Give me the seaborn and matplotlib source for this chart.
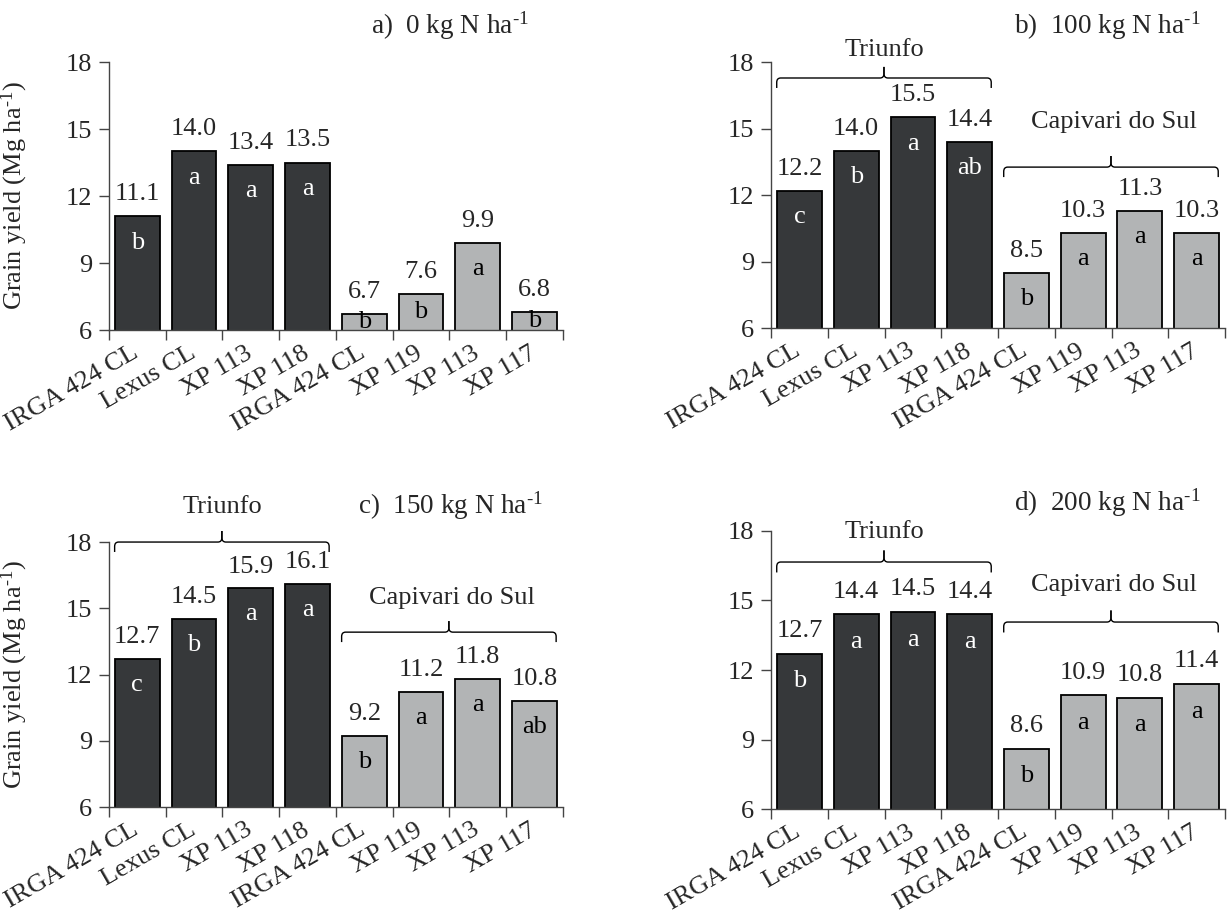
import numpy as np
import pandas as pd
import matplotlib
matplotlib.use('Agg')
import matplotlib.pyplot as plt
import seaborn as sns
from matplotlib.path import Path
from matplotlib.patches import PathPatch
from matplotlib.transforms import ScaledTranslation

# ─── Data ──────────────────────────────────────────────────────────────────
CULTIVARS = ['IRGA 424 CL', 'Lexus CL', 'XP 113', 'XP 118',
             'IRGA 424 CL', 'XP 119', 'XP 113', 'XP 117']
SITES = ['Triunfo'] * 4 + ['Capivari do Sul'] * 4

YIELD_0 = [11.1, 14.0, 13.4, 13.5, 6.7, 7.6, 9.9, 6.8]
YIELD_100 = [12.2, 14.0, 15.5, 14.4, 8.5, 10.3, 11.3, 10.3]
YIELD_150 = [12.7, 14.5, 15.9, 16.1, 9.2, 11.2, 11.8, 10.8]
YIELD_200 = [12.7, 14.4, 14.5, 14.4, 8.6, 10.9, 10.8, 11.4]

LETTERS_0 = ['b', 'a', 'a', 'a', 'b', 'b', 'a', 'b']
LETTERS_100 = ['c', 'b', 'a', 'ab', 'b', 'a', 'a', 'a']
LETTERS_150 = ['c', 'b', 'a', 'a', 'b', 'a', 'a', 'ab']
LETTERS_200 = ['b', 'a', 'a', 'a', 'b', 'a', 'a', 'a']

TITLES = [r'a)  0 kg N ha$^{\text{-1}}$', r'b)  100 kg N ha$^{\text{-1}}$',
          r'c)  150 kg N ha$^{\text{-1}}$', r'd)  200 kg N ha$^{\text{-1}}$']

# brace level / site label height (data units), None = no brace
BRACE_TRIUNFO = [None, 17.28, 18.0, 16.66]
TEXT_TRIUNFO = [None, 18.54, 19.6, 17.96]
BRACE_CAPIVARI = [None, 13.26, 13.92, 14.07]
TEXT_CAPIVARI = [None, 15.3, 15.46, 15.67]

DARK = '#35383b'
LIGHT = '#b2b4b5'
FS = 19

sns.set_theme(style='ticks')
plt.rcParams['font.family'] = ['Liberation Serif', 'DejaVu Serif']
plt.rcParams['mathtext.fontset'] = 'custom'
plt.rcParams['mathtext.rm'] = 'Liberation Serif'
plt.rcParams['mathtext.it'] = 'Liberation Serif:italic'
plt.rcParams['mathtext.bf'] = 'Liberation Serif:bold'


def draw_brace(ax, x0, x1, y, rise=0.5, drop=0.45, rx=0.07, ry=0.2):
    xm = (x0 + x1) / 2
    for xe, s in [(x0, 1), (x1, -1)]:
        verts = [(xe, y - drop), (xe, y - ry), (xe, y), (xe + s * rx, y),
                 (xm - s * rx, y), (xm, y), (xm, y + ry), (xm, y + rise)]
        codes = [Path.MOVETO, Path.LINETO, Path.CURVE3, Path.CURVE3,
                 Path.LINETO, Path.CURVE3, Path.CURVE3, Path.LINETO]
        ax.add_patch(PathPatch(Path(verts, codes), fill=False, lw=1.0,
                               edgecolor='black', clip_on=False))


def draw_panel(fig, rect, values, letters, title, k, ylabel, title_x):
    ax = fig.add_axes(rect)
    df = pd.DataFrame({'pos': [str(i) for i in range(len(values))],
                       'yield': values, 'site': SITES})
    sns.barplot(data=df, x='pos', y='yield', hue='site',
                palette={'Triunfo': DARK, 'Capivari do Sul': LIGHT},
                dodge=False, width=0.79, edgecolor='black', linewidth=1.3,
                legend=False, ax=ax)
    ax.set_ylim(6, 18)
    ax.set_xlim(-0.5, len(values) - 0.5)
    ax.set_yticks([6, 9, 12, 15, 18])
    ax.tick_params(axis='y', labelsize=FS, length=7, width=1,
                   color='#444444', pad=5, direction='out')

    ax.set_xticks(range(len(values)))
    ax.set_xticklabels(CULTIVARS, rotation=30, ha='right',
                       rotation_mode='anchor', fontsize=FS)
    ax.set_xticks(np.arange(-0.5, len(values)), minor=True)
    ax.tick_params(axis='x', which='major', length=0, pad=8.5)
    ax.tick_params(axis='x', which='minor', length=7, width=1,
                   color='#444444', direction='out')
    shift = ScaledTranslation(-6 / 100, 0, fig.dpi_scale_trans)
    for lbl in ax.get_xticklabels():
        lbl.set_transform(lbl.get_transform() + shift)

    sns.despine(ax=ax)
    for sp in ['left', 'bottom']:
        ax.spines[sp].set_color('#444444')
        ax.spines[sp].set_linewidth(1)

    ax.set_xlabel('')
    if ylabel:
        ax.set_ylabel(r'Grain yield (Mg ha$^{\text{-1}}$)', fontsize=FS)
        ax.yaxis.set_label_coords(-0.174, 0.5)
    else:
        ax.set_ylabel('')

    for i, (v, lt) in enumerate(zip(values, letters)):
        ax.text(i, v + 0.72, f'{v:.1f}', ha='center', va='baseline',
                fontsize=FS, clip_on=False)
        if v - 6 >= 2.0:
            ly = v - 1.45
        else:
            ly = (6 + v) / 2 - 0.25
        col = 'white' if SITES[i] == 'Triunfo' else 'black'
        ax.text(i, ly, lt, ha='center', va='baseline', fontsize=FS,
                color=col)

    ax.annotate(title, xy=(title_x, 1.0), xycoords='axes fraction',
                xytext=(0, 26 if k != 3 else 20), textcoords='offset points',
                ha='right', va='center', fontsize=FS + 0.5)

    if BRACE_TRIUNFO[k] is not None:
        draw_brace(ax, 0 - 0.4, 3 + 0.38, BRACE_TRIUNFO[k])
        ax.text(1.5, TEXT_TRIUNFO[k], 'Triunfo', ha='center', va='center',
                fontsize=FS, clip_on=False)
    if BRACE_CAPIVARI[k] is not None:
        draw_brace(ax, 4 - 0.4, 7 + 0.38, BRACE_CAPIVARI[k])
        ax.text(5.55, TEXT_CAPIVARI[k], 'Capivari do Sul', ha='center',
                va='center', fontsize=FS, clip_on=False)
    return ax


def main():
    fig = plt.figure(figsize=(12.27, 9.15), dpi=100)
    rects = [
        [0.0888, 0.6393, 0.3700, 0.2929],
        [0.6284, 0.6415, 0.3700, 0.2907],
        [0.0888, 0.1180, 0.3700, 0.2896],
        [0.6284, 0.1158, 0.3700, 0.3039],
    ]
    title_xs = [0.925, 0.945, 0.955, 0.945]
    series = [YIELD_0, YIELD_100, YIELD_150, YIELD_200]
    letters = [LETTERS_0, LETTERS_100, LETTERS_150, LETTERS_200]
    for k in range(4):
        draw_panel(fig, rects[k], series[k], letters[k], TITLES[k], k,
                   ylabel=(k % 2 == 0), title_x=title_xs[k])
    fig.savefig('out.png', dpi=100)


if __name__ == "__main__":
    main()
